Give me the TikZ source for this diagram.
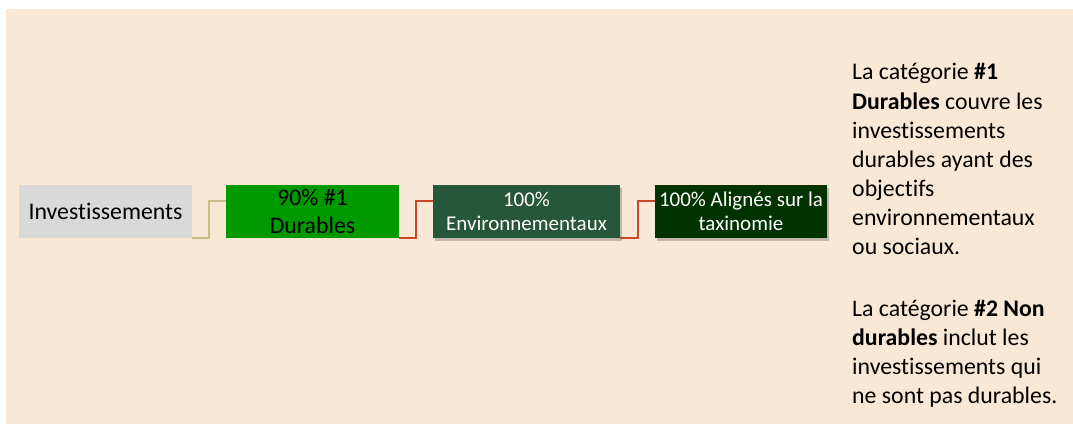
\documentclass[tikz,border=0pt]{standalone}
\usepackage{fontspec}
\setmainfont{Carlito}[Ligatures={NoCommon,NoRare,NoDiscretionary}]
\usetikzlibrary{calc,shadows}
\definecolor{bgc}{HTML}{FAE8D7}
\definecolor{grayc}{HTML}{D9D9D9}
\definecolor{greenc}{HTML}{009900}
\definecolor{envc}{HTML}{27573A}
\definecolor{taxc}{HTML}{003300}
\definecolor{tanc}{HTML}{CBBE84}
\definecolor{redc}{HTML}{C9482A}
\tikzset{
  boxbase/.style={minimum height=53pt, inner sep=0pt, align=center},
  bigtxt/.style={font=\fontsize{23.8}{28}\selectfont},
  smalltxt/.style={font=\fontsize{21}{24.5}\selectfont, text=white},
  shad/.style={drop shadow={shadow xshift=2pt, shadow yshift=-3pt, fill=black, opacity=0.22}},
  conn/.style={line width=1.8pt},
  note/.style={anchor=base west, inner sep=0pt, font=\fontsize{23.8}{29}\selectfont}
}
\begin{document}
\begin{tikzpicture}[x=1pt,y=1pt]
\useasboundingbox (0,0) rectangle (1073,424);
\fill[white] (0,0) rectangle (1073,424);
\fill[bgc] (6,0) rectangle (1073,415);

\node[boxbase, bigtxt, fill=grayc, minimum width=173pt] (inv) at (105.5,212.5) {Investissements};
\node[boxbase, bigtxt, fill=greenc, minimum width=173pt] (dur) at (312.5,212.5) {90\% \#1\\Durables};
\node[boxbase, smalltxt, fill=envc, minimum width=187pt, shad] (env) at (526.5,212.5) {100\%\\Environnementaux};
\node[boxbase, smalltxt, fill=taxc, minimum width=172pt, shad] (tax) at (741,212.5) {100\% Alignés sur la\\taxinomie};

\draw[conn, tanc] (inv.south east) -- ++(17,0) |- ($(dur.north west)+(0,-16)$);
\draw[conn, redc] (dur.south east) -- ++(17,0) |- ($(env.north west)+(0,-16)$);
\draw[conn, redc] (env.south east) -- ++(17.5,0) |- ($(tax.north west)+(0,-16)$);

\node[note] (n1) at (852,344) {La catégorie \textbf{\#1}};
\node[note] (n2) at (852,315) {\textbf{Durables} couvre les};
\node[note] (n3) at (852,286) {investissements};
\node[note] (n4) at (852,257) {durables ayant des};
\node[note] (n5) at (852,228) {objectifs};
\node[note] (n6) at (852,199) {environnementaux};
\node[note] (n7) at (852,170) {ou sociaux.};
\node[note] (m1) at (852,108) {La catégorie \textbf{\#2 Non}};
\node[note] (m2) at (852,79) {\textbf{durables} inclut les};
\node[note] (m3) at (852,50) {investissements qui};
\node[note] (m4) at (852,21) {ne sont pas durables.};
\end{tikzpicture}
\end{document}
